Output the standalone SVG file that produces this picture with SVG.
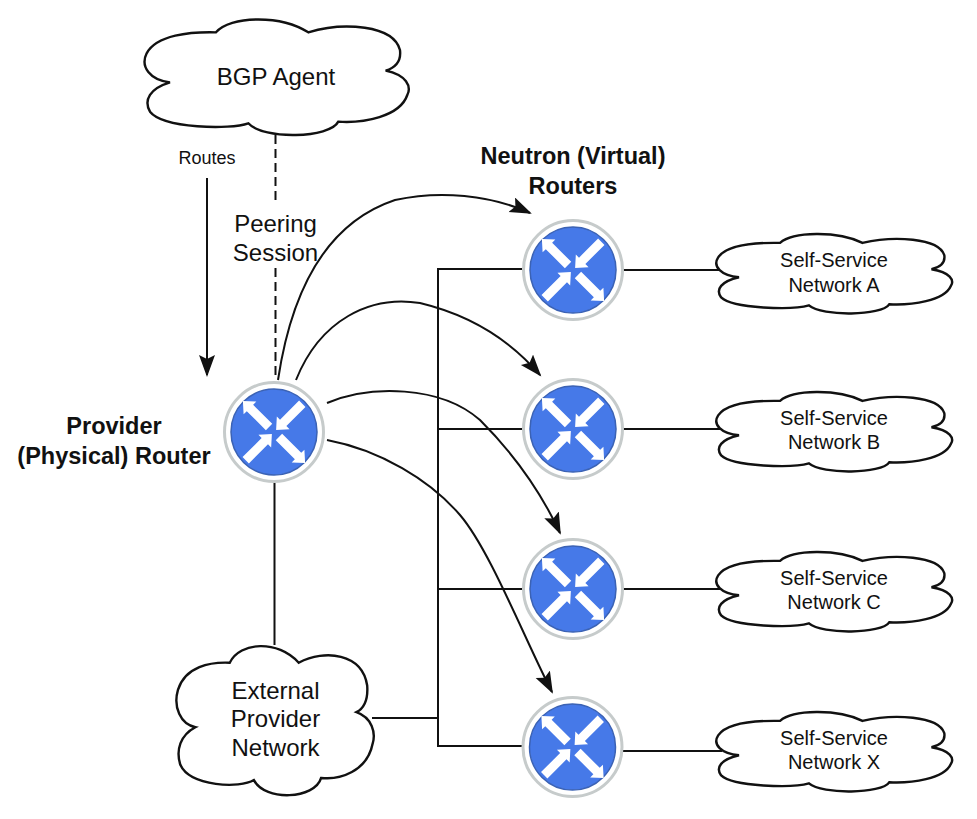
<svg xmlns="http://www.w3.org/2000/svg" width="977" height="819" viewBox="0 0 977 819">
<style>
text{font-family:"Liberation Sans",Arial,sans-serif;fill:#111;text-anchor:middle}
.l{font-size:24px}.b{font-size:23.500px;font-weight:bold}.s{font-size:20px}.r{font-size:18px}
.c{fill:#fff;stroke:#111;stroke-width:2.400;vector-effect:non-scaling-stroke}
.w{fill:none;stroke:#111;stroke-width:2}
</style>
<defs>
<marker id="ah" markerWidth="24" markerHeight="20" refX="20" refY="8" orient="auto" markerUnits="userSpaceOnUse"><path d="M0 0L22 8L0 16L4 8Z" fill="#111"/></marker>
<path id="cl" class="c" d="M258 97C300 48 450 43 535 97C640 65 790 75 810 150C815 190 790 205 767 212C830 225 845 260 832 285C810 350 700 370 625 365C600 415 400 420 355 370C300 390 100 385 60 335C40 300 60 265 120 247C60 240 30 200 50 160C80 105 180 95 258 97Z"/>
<path id="ar" fill="#fff" d="M0-4.500H27V-9L37 0L27 9V4.500H0Z"/>
<g id="rt">
<circle r="49.500" fill="#fff" stroke="#c6cbcb" stroke-width="3"/>
<circle r="43" fill="#4679e8" stroke="#3b62b4" stroke-width="1.500"/>
<use href="#ar" transform="rotate(-135)translate(7,0)"/>
<use href="#ar" transform="rotate(45)translate(7,0)"/>
<use href="#ar" transform="rotate(-45)translate(40,0)rotate(180)"/>
<use href="#ar" transform="rotate(135)translate(40,0)rotate(180)"/>
</g>
</defs>
<g id="connectors">
<path class="w" stroke-dasharray="9 5" d="M275.500 135V205M275.500 268V380"/>
<path class="w" marker-end="url(#ah)" d="M207 178V375"/>
<path class="w" marker-end="url(#ah)" d="M278 380C290 300 320 225 395 200C440 190 490 195 530 213"/>
<path class="w" marker-end="url(#ah)" d="M296 380C320 320 370 295 420 303C470 315 510 340 540 375"/>
<path class="w" marker-end="url(#ah)" d="M327 403C370 385 440 385 480 420C510 450 540 490 560 533"/>
<path class="w" marker-end="url(#ah)" d="M327 440C380 450 430 480 460 515C490 550 525 640 552 692"/>
<path class="w" d="M522 269H438V746H522M438 429H522M438 589H522M372 718H438M623 270H722M623 429H722M623 589H722M623 751H722M274.500 483V645"/>
</g>
<g id="bgp"><use href="#cl" transform="translate(130,0)scale(.3333)"/><text class="l" x="276" y="85">BGP Agent</text></g>
<g id="external"><use href="#cl" transform="translate(165.500,621)scale(.249,.43)"/><text class="l" x="275.500" y="699">External</text><text class="l" x="275.500" y="727">Provider</text><text class="l" x="275.500" y="756">Network</text></g>
<g id="provider"><use href="#rt" x="274" y="432"/></g>
<g id="routerA"><use href="#rt" x="573" y="270"/></g>
<g id="routerB"><use href="#rt" x="573" y="429"/></g>
<g id="routerC"><use href="#rt" x="573" y="589"/></g>
<g id="routerX"><use href="#rt" x="572.500" y="747"/></g>
<g id="netA"><use href="#cl" transform="translate(703.300,220.700)scale(.2975,.229)"/><text class="s" x="834" y="267">Self-Service</text><text class="s" x="834" y="292">Network A</text></g>
<g id="netB"><use href="#cl" transform="translate(703.300,378.700)scale(.2975,.229)"/><text class="s" x="834" y="425">Self-Service</text><text class="s" x="834" y="449">Network B</text></g>
<g id="netC"><use href="#cl" transform="translate(703.300,538.700)scale(.2975,.229)"/><text class="s" x="834" y="585">Self-Service</text><text class="s" x="834" y="609">Network C</text></g>
<g id="netX"><use href="#cl" transform="translate(703.300,698.700)scale(.2975,.229)"/><text class="s" x="834" y="745">Self-Service</text><text class="s" x="834" y="769">Network X</text></g>
<g id="labels">
<text class="r" x="207" y="164">Routes</text>
<text class="l" x="275.500" y="232">Peering</text><text class="l" x="275.500" y="261">Session</text>
<text class="b" x="573" y="164">Neutron (Virtual)</text><text class="b" x="573" y="194">Routers</text>
<text class="b" x="114" y="434">Provider</text><text class="b" x="114" y="464">(Physical) Router</text>
</g>
</svg>
